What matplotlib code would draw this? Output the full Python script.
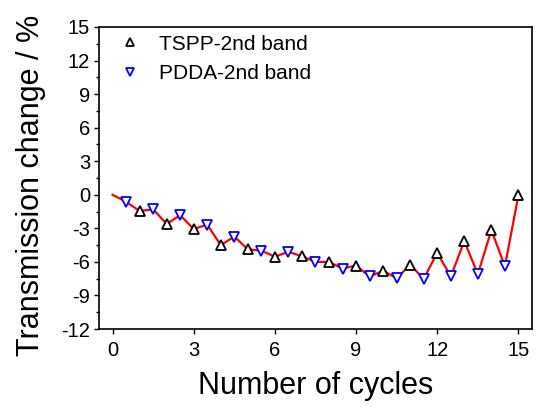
import matplotlib
matplotlib.use('Agg')
import matplotlib.pyplot as plt
import numpy as np
from matplotlib.ticker import MultipleLocator

plt.rcParams['font.family'] = ['Liberation Sans', 'DejaVu Sans']
plt.rcParams['axes.unicode_minus'] = False

# starting point of the curve (no marker)
start_x = 0
start_y = 0.0

tspp_x = [1, 2, 3, 4, 5, 6, 7, 8, 9, 10, 11, 12, 13, 14, 15]
tspp_y = [-1.45, -2.6, -3.06, -4.5, -4.87, -5.53, -5.5, -6.0, -6.33, -6.8,
          -6.27, -5.2, -4.15, -3.15, -0.02]

pdda_x = [0.5, 1.5, 2.5, 3.5, 4.5, 5.5, 6.5, 7.5, 8.5, 9.5, 10.5, 11.5, 12.5, 13.5, 14.5]
pdda_y = [-0.62, -1.3, -1.83, -2.67, -3.74, -5.0, -5.1, -6.0, -6.6, -7.3,
          -7.46, -7.5, -7.3, -7.1, -6.4]

# red line goes through all points in order
line_x = [start_x]
line_y = [start_y]
for i in range(len(tspp_x)):
    line_x += [pdda_x[i], tspp_x[i]]
    line_y += [pdda_y[i], tspp_y[i]]

fig = plt.figure(figsize=(5.36, 4.07), dpi=100)
ax = fig.add_axes([0.1847, 0.1916, 0.8078, 0.7421])

ax.plot(line_x, line_y, color='red', lw=1.6, zorder=1)
ax.plot(tspp_x, tspp_y, ls='none', marker='^', ms=7.5, mew=1.3,
        mec='black', mfc='white', zorder=3, label='TSPP-2nd band')
ax.plot(pdda_x, pdda_y, ls='none', marker='v', ms=7.5, mew=1.3,
        mec='blue', mfc='white', zorder=2, label='PDDA-2nd band')

ax.set_xlim(-0.5, 15.5)
ax.set_ylim(-12, 15)
ax.xaxis.set_major_locator(MultipleLocator(3))
ax.yaxis.set_major_locator(MultipleLocator(3))
ax.yaxis.set_minor_locator(MultipleLocator(1.5))

ax.tick_params(axis='both', which='major', direction='out', length=3.5, width=1,
               labelsize=14.5)
ax.tick_params(axis='y', which='minor', direction='out', length=2, width=1)
ax.tick_params(axis='y', pad=3)
ax.tick_params(axis='x', pad=5)
for s in ax.spines.values():
    s.set_linewidth(1.2)

ax.set_xlabel('Number of cycles', fontsize=22, labelpad=8)
ax.set_ylabel('Transmission change / %', fontsize=22)
ax.yaxis.set_label_coords(-0.123, 0.477)

ax.legend(loc='upper left', bbox_to_anchor=(0.047, 0.975), frameon=False,
          fontsize=15, markerscale=0.8, handlelength=1.0, handletextpad=0.9,
          labelspacing=0.5, borderpad=0, borderaxespad=0)

fig.savefig('out.png', dpi=100)
